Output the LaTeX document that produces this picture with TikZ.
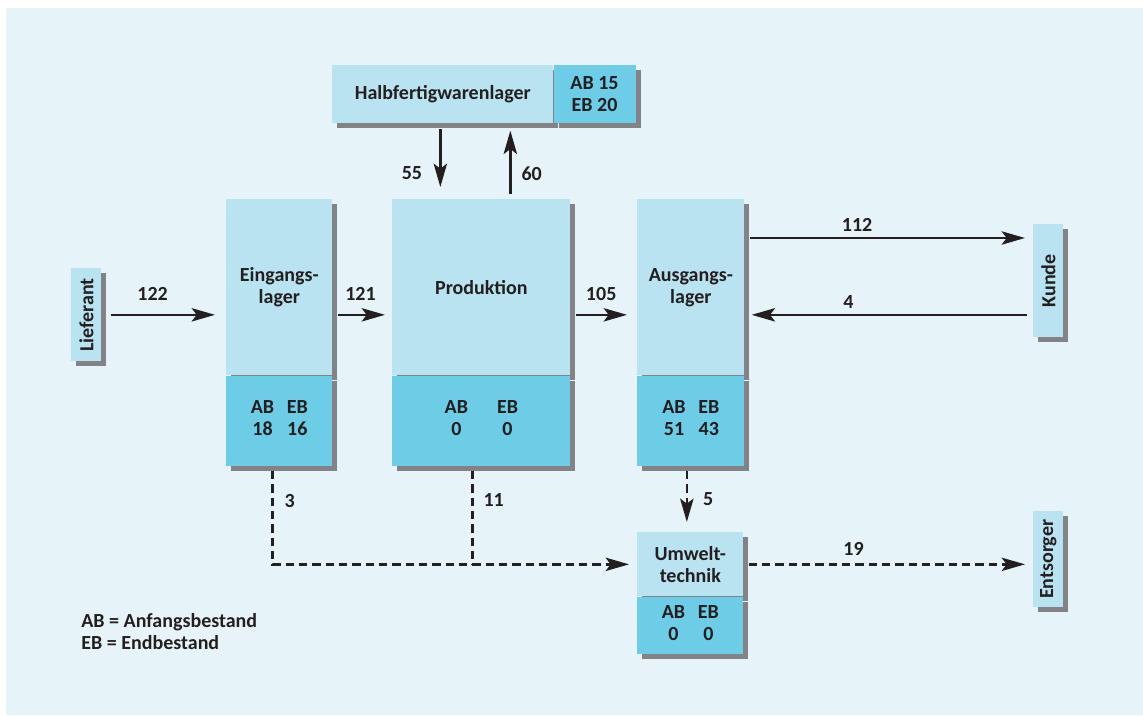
\documentclass[tikz,border=0pt]{standalone}
\usepackage{fontspec}
\setmainfont{Carlito}
\usetikzlibrary{arrows.meta,positioning,shadows}
\definecolor{bgblue}{HTML}{E6F4FA}
\definecolor{lightbox}{HTML}{B9E3F1}
\definecolor{darkbox}{HTML}{6DCCE6}
\definecolor{shade}{HTML}{838387}
\definecolor{ink}{HTML}{231F20}
\newcommand\abeb[3][3.8pt]{{\setlength\tabcolsep{#1}\begin{tabular}{cc}AB&EB\\#2&#3\end{tabular}}}

\begin{document}
\begin{tikzpicture}[x=0.6pt,y=-0.6pt,
  font=\fontsize{12}{13.2}\selectfont\bfseries,text=ink,
  box/.style={rectangle,fill=lightbox,inner sep=0pt,align=center,
              drop shadow={shadow xshift=3pt,shadow yshift=-3pt,fill=shade,opacity=1}},
  stock/.style={box,fill=darkbox},
  arr/.style={-{Stealth[length=14pt,width=8pt,inset=3pt]},line width=1.5pt,draw=ink},
  darr/.style={arr,dash pattern=on 5pt off 3pt},
  lbl/.style={inner sep=0pt},
  node distance=-0.3pt
]
\useasboundingbox (0,0) rectangle (1143,715);
\fill[bgblue] (6,8) rectangle (1143,715);

\node[box,anchor=north west,minimum width=132.6pt,minimum height=34.8pt] (halb) at (332,65) {Halbfertigwarenlager};
\node[stock,right=of halb,minimum width=49.2pt,minimum height=34.8pt] (halbab) {AB 15\\EB 20};

\node[box,anchor=north west,minimum width=18pt,minimum height=55.8pt] (lief) at (71,268) {\rotatebox{90}{Lieferant}};

\node[box,anchor=north west,minimum width=63.6pt,minimum height=105.6pt] (ein) at (226,199) {Eingangs-\\lager};
\node[stock,below=of ein,minimum width=63.6pt,minimum height=54pt] (einab) {\abeb{18}{16}};

\node[box,anchor=north west,minimum width=106.8pt,minimum height=105.6pt] (prod) at (392,199) {Produktion};
\node[stock,below=of prod,minimum width=106.8pt,minimum height=54pt] (prodab) {\abeb[8.7pt]{0}{0}};

\node[box,anchor=north west,minimum width=64.2pt,minimum height=105.6pt] (aus) at (637,199) {Ausgangs-\\lager};
\node[stock,below=of aus,minimum width=64.2pt,minimum height=54pt] (ausab) {\abeb{51}{43}};

\node[box,anchor=north west,minimum width=63.6pt,minimum height=38.4pt] (umw) at (637,532) {Umwelt-\\technik};
\node[stock,below=of umw,minimum width=63.6pt,minimum height=34.2pt] (umwab) {\abeb{0}{0}};

\node[box,anchor=north west,minimum width=18pt,minimum height=67.8pt] (kunde) at (1033,224) {\rotatebox{90}{Kunde}};
\node[box,anchor=north west,minimum width=18pt,minimum height=57.6pt] (ents) at (1033,511) {\rotatebox{90}{Entsorger}};

\node[lbl,anchor=north west,align=left] (legend) at (81,613) {AB = Anfangsbestand\\EB = Endbestand};

\draw[arr,shorten <=5.4pt,shorten >=6.6pt] (lief) -- node[lbl,above=7.8pt,pos=0.41] {122} (lief -| ein.west);
\draw[arr,shorten <=3pt,shorten >=4.2pt] (lief -| ein.east) -- node[lbl,above=7.8pt,pos=0.47] {121} (lief -| prod.west);
\draw[arr,shorten <=3pt,shorten >=6pt] (lief -| prod.east) -- node[lbl,above=7.8pt,pos=0.46] {105} (lief -| aus.west);
\draw[arr,shorten <=3pt,shorten >=4.8pt] ([yshift=-23.4pt]aus.north east) -- node[lbl,above=3pt,pos=0.39] {112} ([yshift=-23.4pt]aus.north east -| kunde.west);
\draw[arr,shorten <=3.6pt,shorten >=4.2pt] (lief -| kunde.west) -- node[lbl,above=3pt,pos=0.64] {4} (lief -| aus.east);
\draw[arr,shorten <=3pt,shorten >=7.2pt] ([xshift=-1.5pt]halb.south) -- node[lbl,left=10.2pt,pos=0.66] {55} ([xshift=-1.5pt]halb.south |- prod.north);
\draw[arr,shorten <=3pt,shorten >=4.2pt] ([xshift=17.4pt]prod.north) -- node[lbl,right=6pt,pos=0.34] {60} ([xshift=17.4pt]prod.north |- halb.south);

\draw[darr,shorten <=3pt,shorten >=4.8pt] ([xshift=-4.2pt]einab.south) |- node[lbl,right=6.6pt,pos=0.177] {3} (umw.west);
\draw[darr,-,shorten <=3pt] ([xshift=-5.4pt]prodab.south) -- node[lbl,right=6pt,pos=0.35] {11} ([xshift=-5.4pt]prodab.south |- umw.west);
\draw[darr,shorten <=3pt,shorten >=6pt] ([xshift=-2.4pt]ausab.south) -- node[lbl,right=9pt,pos=0.51] {5} ([xshift=-2.4pt]ausab.south |- umw.north);
\draw[darr,shorten <=3pt,shorten >=4.8pt] (umw.east) -- node[lbl,above=4.8pt,pos=0.38] {19} (umw.east -| ents.west);
\end{tikzpicture}
\end{document}
